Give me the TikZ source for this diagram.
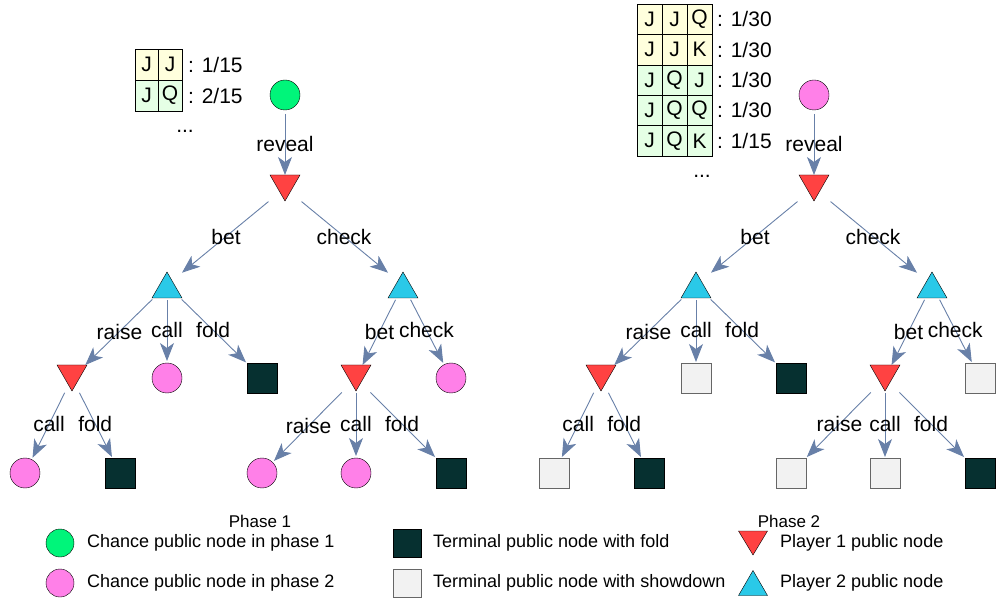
\documentclass[tikz,border=0pt]{standalone}
\usepackage{fontspec}
\setmainfont{Liberation Sans}
\usetikzlibrary{arrows.meta}

\definecolor{chanceA}{RGB}{0,245,122}
\definecolor{chanceB}{RGB}{255,128,232}
\definecolor{playerA}{RGB}{255,66,66}
\definecolor{playerB}{RGB}{42,201,232}
\definecolor{foldcol}{RGB}{6,48,48}
\definecolor{showcol}{RGB}{242,242,242}
\definecolor{edgecol}{RGB}{104,128,168}
\definecolor{handA}{RGB}{255,255,221}
\definecolor{handB}{RGB}{229,255,229}

\tikzset{
  chanceone/.style={circle, draw, fill=chanceA, minimum size=30pt, inner sep=0pt, outer sep=2pt},
  chancetwo/.style={circle, draw, fill=chanceB, minimum size=30pt, inner sep=0pt, outer sep=2pt},
  tribox/.style={rectangle, minimum width=30pt, minimum height=26pt, inner sep=0pt, outer sep=0pt},
  playerone/.style={tribox, append after command={\pgfextra{\draw[fill=playerA]
      (\tikzlastnode.north west) -- (\tikzlastnode.north east) -- (\tikzlastnode.south) -- cycle;}}},
  playertwo/.style={tribox, append after command={\pgfextra{\draw[fill=playerB]
      (\tikzlastnode.south west) -- (\tikzlastnode.south east) -- (\tikzlastnode.north) -- cycle;}}},
  foldbox/.style={rectangle, draw, fill=foldcol, minimum size=30pt, inner sep=0pt, outer sep=1pt},
  showbox/.style={rectangle, draw=black!60, fill=showcol, minimum size=30pt, inner sep=0pt, outer sep=1pt},
  cell/.style={rectangle, draw, minimum width=25pt, minimum height=30.4pt, inner sep=0pt},
  legtext/.style={anchor=west, inner sep=0pt, font=\fontsize{18}{20}\selectfont},
}

\begin{document}
\begin{tikzpicture}[x=1pt, y=-1pt, font=\fontsize{21}{24}\selectfont]
  \useasboundingbox (0,0) rectangle (996,601);

  % phase 1
  \draw
    (285,95) node[chanceone] (r1){}
    (285,188) node[playerone] (a1){}
    (167,285) node[playertwo] (b1){}
    (403,285) node[playertwo] (c1){}
    (72,378) node[playerone] (d1){}
    (167,378) node[chancetwo] (e1){}
    (262,378) node[foldbox] (f1){}
    (356,378) node[playerone] (g1){}
    (451,378) node[chancetwo] (h1){}
    (25,473) node[chancetwo] (i1){}
    (120,473) node[foldbox] (j1){}
    (262,473) node[chancetwo] (k1){}
    (356,473) node[chancetwo] (l1){}
    (451,473) node[foldbox] (m1){};

  % phase 2
  \draw
    (814,95) node[chancetwo] (r2){}
    (814,188) node[playerone] (a2){}
    (696,285) node[playertwo] (b2){}
    (932,285) node[playertwo] (c2){}
    (601,378) node[playerone] (d2){}
    (696,378) node[showbox] (e2){}
    (791,378) node[foldbox] (f2){}
    (885,378) node[playerone] (g2){}
    (980,378) node[showbox] (h2){}
    (554,473) node[showbox] (i2){}
    (649,473) node[foldbox] (j2){}
    (791,473) node[showbox] (k2){}
    (885,473) node[showbox] (l2){}
    (980,473) node[foldbox] (m2){};

  \begin{scope}[-{Stealth[length=18pt, width=14pt, inset=5pt]}, draw=edgecol, fill=edgecol,
      line width=0.9pt, shorten <=2pt]
    \foreach \p in {1,2} {
      \draw (r\p) to node{reveal} (a\p);
      \draw (a\p) to node{bet} (b\p);
      \draw (a\p) to node{check} (c\p);
      \draw (b\p) to node{raise} (d\p);
      \draw (b\p) to node{call} (e\p);
      \draw (b\p) to node{fold} (f\p);
      \draw (d\p) to node{call} (i\p);
      \draw (d\p) to node{fold} (j\p);
      \draw (c\p) to node{bet} (g\p);
      \draw (c\p) to node{check} (h\p);
      \draw (g\p) to node{raise} (k\p);
      \draw (g\p) to node{call} (l\p);
      \draw (g\p) to node{fold} (m\p);
    }
  \end{scope}

  % hands
  \foreach \t/\c/\x/\y [count=\n] in {J/handA/146.5/64.5, J/handA/170/64.5, J/handB/146.5/95.5, Q/handB/170/95.5}
    \node[cell, fill=\c, minimum width=23.5pt, minimum height=31pt] (hl\n) at (\x,\y) {\t};
  \node[anchor=west, inner sep=0pt] (pl1) at (188,64.5) {: 1/15};
  \node[anchor=west, inner sep=0pt] (pl2) at (188,95.5) {: 2/15};
  \node (dl) at (185,131) {...};

  \foreach \a/\b/\d/\c/\y/\q [count=\r] in {J/J/Q/handA/19.2/1\slash30, J/J/K/handA/49.6/1\slash30,
      J/Q/J/handB/80/1\slash30, J/Q/Q/handB/110.4/1\slash30, J/Q/K/handB/140.8/1\slash15} {
    \node[cell, fill=\c] (hr\r-1) at (649.5,\y) {\a};
    \node[cell, fill=\c] (hr\r-2) at (674.5,\y) {\b};
    \node[cell, fill=\c] (hr\r-3) at (699.5,\y) {\d};
    \node[anchor=west, inner sep=0pt] (pr\r) at (717,\y) {: \q};
  }
  \node (dr) at (702,176) {...};

  % legend
  \node[font=\fontsize{17}{19}\selectfont] (ph1) at (260,521) {Phase 1};
  \node[font=\fontsize{17}{19}\selectfont] (ph2) at (789,521) {Phase 2};
  \node[chanceone, minimum size=28pt] (lg1) at (60,543) {};
  \node[legtext] (lt1) at (87,543) {Chance public node in phase 1};
  \node[chancetwo, minimum size=28pt] (lg2) at (60,583) {};
  \node[legtext] (lt2) at (87,583) {Chance public node in phase 2};
  \node[foldbox, minimum size=28pt] (lg3) at (407,543) {};
  \node[legtext] (lt3) at (433,543) {Terminal public node with fold};
  \node[showbox, minimum size=28pt] (lg4) at (407,583) {};
  \node[legtext] (lt4) at (433,583) {Terminal public node with showdown};
  \node[playerone, minimum width=29pt, minimum height=24pt] (lg5) at (753,543) {};
  \node[legtext] (lt5) at (780,543) {Player 1 public node};
  \node[playertwo, minimum width=29pt, minimum height=25pt] (lg6) at (753,583) {};
  \node[legtext] (lt6) at (780,583) {Player 2 public node};
\end{tikzpicture}
\end{document}
